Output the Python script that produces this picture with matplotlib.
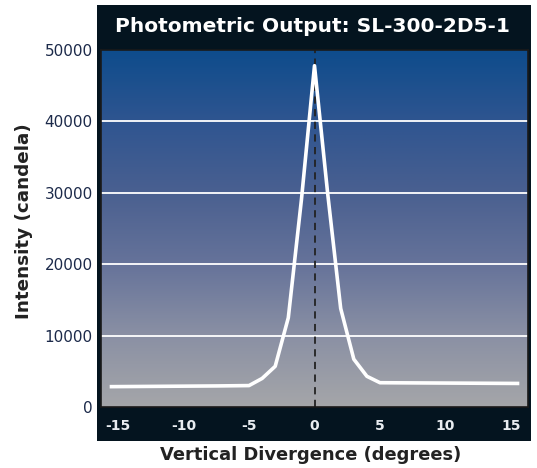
import matplotlib.pyplot as plt
import numpy as np
from matplotlib.colors import LinearSegmentedColormap
from matplotlib.patches import Rectangle

# photometric data
angles = [-15.5, -7.5, -5, -4, -3, -2, -1, 0, 1, 2, 3, 4, 5, 15.5]
intensity = [2850, 2950, 3000, 4000, 5700, 12500, 29000, 47800, 30000, 13800, 6700, 4300, 3400, 3300]
xticks = [-15, -10, -5, 0, 5, 10, 15]
yticks = [0, 10000, 20000, 30000, 40000, 50000]
gridlines = [10000, 20000, 30000, 40000]

W, H = 537, 468
fig = plt.figure(figsize=(W / 100, H / 100), dpi=100)
fig.patch.set_facecolor('white')

dark = '#04141f'
# dark frame (title bar + bottom bar)
fig.patches.append(Rectangle((97 / W, 1 - 441 / H), (531 - 97) / W, (441 - 5) / H,
                             transform=fig.transFigure, facecolor=dark, edgecolor='none', zorder=-1))

ax = fig.add_axes([101 / W, 1 - 407 / H, (528 - 101) / W, (407 - 50) / H])
ax.set_zorder(2)

# gradient background
cmap = LinearSegmentedColormap.from_list('bg', ['#a5a6a9', '#8a90a4', '#66739a', '#4a6090', '#2f5590', '#0e4c8c'])
grad = np.linspace(0, 1, 256).reshape(-1, 1)
ax.imshow(grad, cmap=cmap, aspect='auto', extent=[-16.3, 16.3, 0, 50000], origin='lower', zorder=0)

for g in gridlines:
    ax.axhline(g, color='white', lw=1.3, zorder=1)

ax.axvline(0, color='#222222', lw=1.3, ls=(0, (4, 3)), zorder=2)
ax.plot(angles, intensity, color='white', lw=2.6, zorder=3, solid_joinstyle='round')

ax.set_xlim(-16.3, 16.3)
ax.set_ylim(0, 50000)
ax.set_xticks(xticks)
ax.set_yticks(yticks)
ax.set_xticklabels([str(t) for t in xticks], color='#e8ecf0', fontsize=10, fontweight='bold')
ax.set_yticklabels([str(t) for t in yticks], color='#1c2a4a', fontsize=11)
ax.tick_params(axis='x', length=0, pad=9)
ax.tick_params(axis='y', length=0, pad=6)
for s in ax.spines.values():
    s.set_color('#1a1a1a')
    s.set_linewidth(1.2)

fig.text(312 / W, 1 - 27 / H, 'Photometric Output: SL-300-2D5-1', color='white',
         fontsize=14.5, fontweight='bold', ha='center', va='center')
fig.text(311 / W, 1 - 455 / H, 'Vertical Divergence (degrees)', color='#222222',
         fontsize=12.9, fontweight='bold', ha='center', va='center')
fig.text(24 / W, 1 - 221 / H, 'Intensity (candela)', color='#222222',
         fontsize=13.2, fontweight='bold', ha='center', va='center', rotation=90)

fig.savefig('out.png', dpi=100)
